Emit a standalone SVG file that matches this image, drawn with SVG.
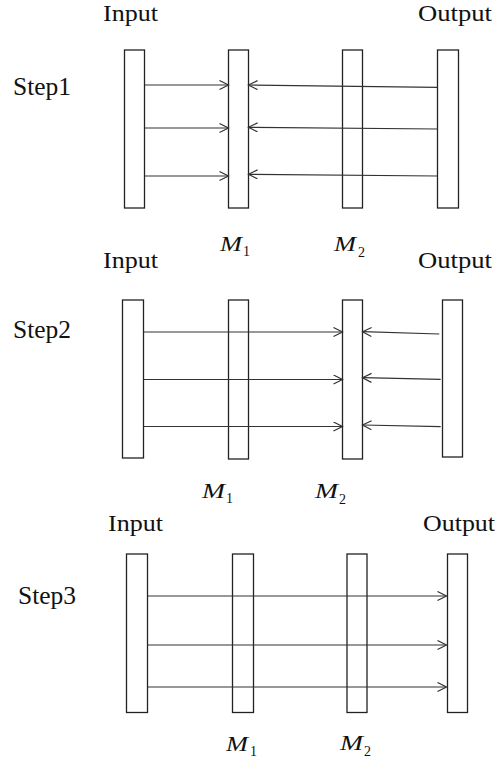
<svg xmlns="http://www.w3.org/2000/svg" width="496" height="768" viewBox="0 0 496 768">
<style>
.bar{fill:#fff;stroke:#222;stroke-width:1.3}
.ln{stroke:#333;stroke-width:1.2;fill:none;marker-end:url(#ah)}
text{font-family:'Liberation Serif','DejaVu Serif',serif;fill:#111}
.t{font-size:23px}
.st{font-size:25px}
.m{font-size:21px;font-style:italic}
.s{font-size:14px}
</style>
<defs>
<marker id="ah" markerUnits="userSpaceOnUse" markerWidth="12" markerHeight="12" refX="10" refY="5" orient="auto">
<path d="M1,0.5 L10,5 L1,9.5" fill="none" stroke="#333" stroke-width="1.2"/>
</marker>
</defs>
<rect width="496" height="768" fill="#fff"/>

<!-- Step 1 -->
<g id="step1-labels">
<text class="t" x="103" y="21" textLength="55" lengthAdjust="spacingAndGlyphs">Input</text>
<text class="t" x="418" y="21" textLength="74" lengthAdjust="spacingAndGlyphs">Output</text>
<text class="st" x="13" y="95" textLength="58" lengthAdjust="spacingAndGlyphs">Step1</text>
</g>
<g id="s1-input"><rect class="bar" x="124.5" y="50" width="20" height="158"/></g>
<g id="s1-m1"><rect class="bar" x="228.5" y="50" width="20" height="158"/>
<text class="m" x="220" y="251" textLength="22" lengthAdjust="spacingAndGlyphs">M</text><text class="s" x="243" y="256">1</text></g>
<g id="s1-m2"><rect class="bar" x="342.5" y="50" width="20" height="158"/>
<text class="m" x="334" y="251" textLength="22" lengthAdjust="spacingAndGlyphs">M</text><text class="s" x="358" y="257">2</text></g>
<g id="s1-output"><rect class="bar" x="437.5" y="50" width="21" height="158"/></g>

<!-- Step 2 -->
<g id="step2-labels">
<text class="t" x="103" y="268" textLength="55" lengthAdjust="spacingAndGlyphs">Input</text>
<text class="t" x="418" y="268" textLength="74" lengthAdjust="spacingAndGlyphs">Output</text>
<text class="st" x="13" y="338" textLength="58" lengthAdjust="spacingAndGlyphs">Step2</text>
</g>
<g id="s2-input"><rect class="bar" x="122.5" y="300" width="21" height="158"/></g>
<g id="s2-m1"><rect class="bar" x="228.5" y="300" width="20" height="159"/>
<text class="m" x="202" y="498" textLength="23" lengthAdjust="spacingAndGlyphs">M</text><text class="s" x="226" y="503">1</text></g>
<g id="s2-m2"><rect class="bar" x="342.5" y="300" width="20" height="159"/>
<text class="m" x="315" y="498" textLength="23" lengthAdjust="spacingAndGlyphs">M</text><text class="s" x="339" y="504">2</text></g>
<g id="s2-output"><rect class="bar" x="442.5" y="300" width="20" height="157"/></g>

<!-- Step 3 -->
<g id="step3-labels">
<text class="t" x="108" y="531" textLength="55" lengthAdjust="spacingAndGlyphs">Input</text>
<text class="t" x="423" y="531" textLength="72" lengthAdjust="spacingAndGlyphs">Output</text>
<text class="st" x="18" y="604" textLength="58" lengthAdjust="spacingAndGlyphs">Step3</text>
</g>
<g id="s3-input"><rect class="bar" x="126.5" y="554" width="21" height="158.5"/></g>
<g id="s3-m1"><rect class="bar" x="232.5" y="554" width="21" height="158.5"/>
<text class="m" x="226" y="751" textLength="22" lengthAdjust="spacingAndGlyphs">M</text><text class="s" x="250" y="756">1</text></g>
<g id="s3-m2"><rect class="bar" x="347" y="554" width="20" height="158.5"/>
<text class="m" x="340" y="750" textLength="23" lengthAdjust="spacingAndGlyphs">M</text><text class="s" x="364" y="756">2</text></g>
<g id="s3-output"><rect class="bar" x="447.5" y="554" width="20" height="158.5"/></g>

<g id="connectors">
<line class="ln" x1="144.5" y1="85" x2="228.5" y2="85"/>
<line class="ln" x1="144.5" y1="128" x2="228.5" y2="128"/>
<line class="ln" x1="144.5" y1="176" x2="228.5" y2="176"/>
<line class="ln" x1="437.5" y1="87.3" x2="248.5" y2="85"/>
<line class="ln" x1="437.5" y1="129" x2="248.5" y2="127.3"/>
<line class="ln" x1="437.5" y1="176" x2="248.5" y2="174.3"/>
<line class="ln" x1="143.5" y1="332" x2="342.5" y2="332"/>
<line class="ln" x1="143.5" y1="379.5" x2="342.5" y2="379.5"/>
<line class="ln" x1="143.5" y1="426.5" x2="342.5" y2="426.5"/>
<line class="ln" x1="439.3" y1="334" x2="362.5" y2="331.7"/>
<line class="ln" x1="440.7" y1="379.3" x2="362.5" y2="377.7"/>
<line class="ln" x1="440.7" y1="426.7" x2="362.5" y2="425"/>
<line class="ln" x1="147.5" y1="596" x2="446.5" y2="596"/>
<line class="ln" x1="147.5" y1="645" x2="446.5" y2="645"/>
<line class="ln" x1="147.5" y1="687" x2="446.5" y2="687"/>
</g>
</svg>
